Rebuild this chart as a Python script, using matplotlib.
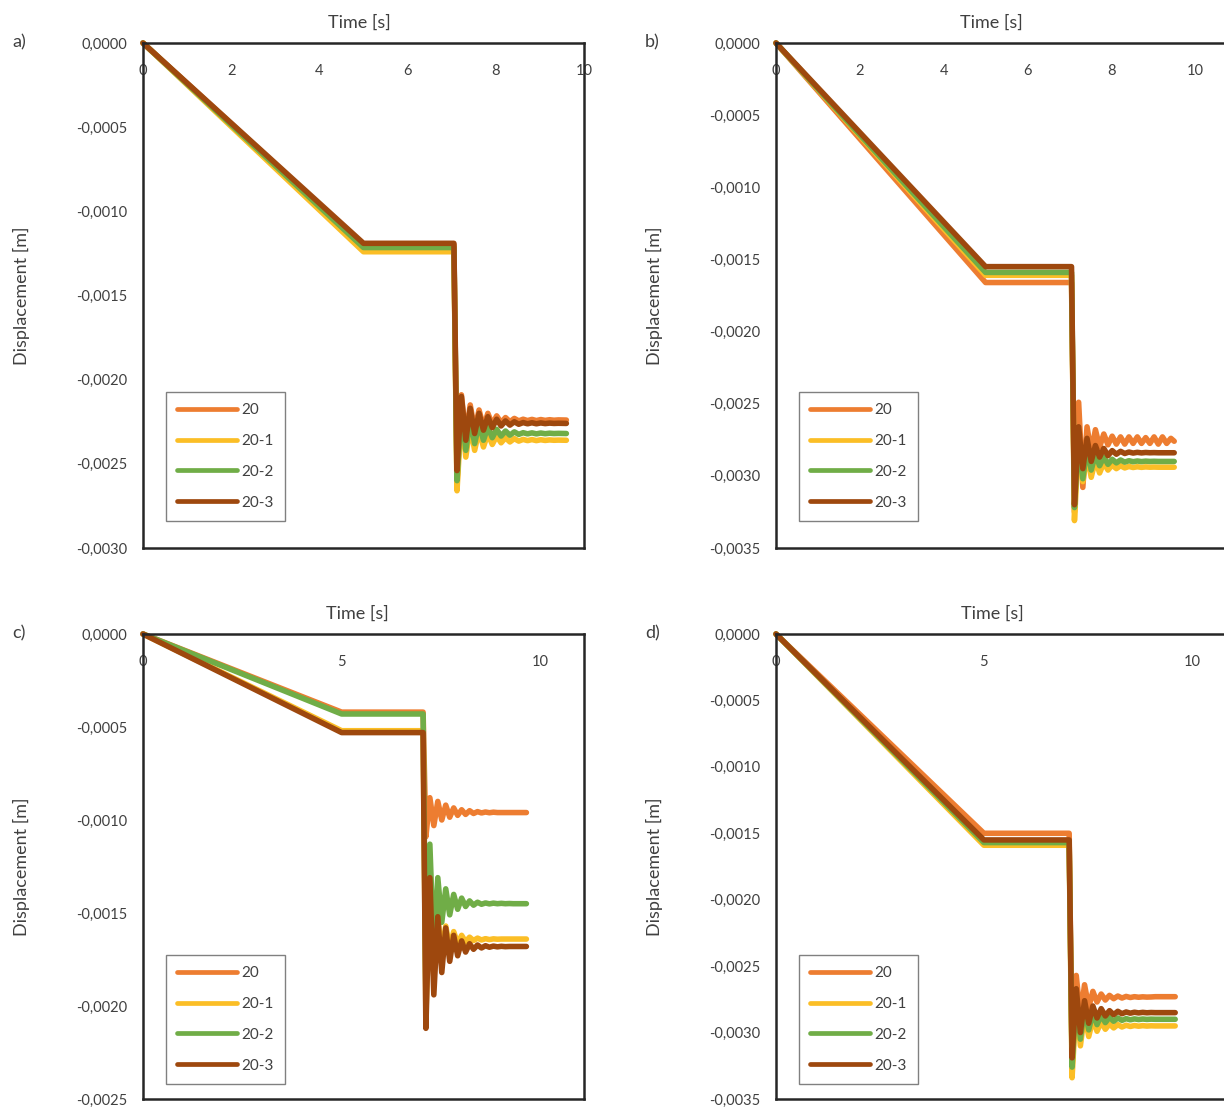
import matplotlib
matplotlib.use('Agg')
import matplotlib.pyplot as plt
from matplotlib.transforms import blended_transform_factory
from matplotlib.ticker import FixedLocator, FuncFormatter

plt.rcParams['font.family'] = ['Lato', 'DejaVu Sans']

W, H = 1224, 1107

series_names = ['20', '20-1', '20-2', '20-3']
colors = ['#ED7D31', '#FBBE26', '#70AD47', '#9E480E']

# common time points: start, end of ramp, end of plateau, oscillation extrema
t_ramp = [0.0, 5.0, 7.05]
t_osc = [7.12, 7.22, 7.32, 7.42, 7.52, 7.62, 7.72, 7.82, 7.92, 8.02, 8.12, 8.22,
         8.32, 8.42, 8.52, 8.62, 8.72, 8.82, 8.92, 9.02, 9.12, 9.22, 9.32, 9.42]
t_end = {'a': 9.60, 'b': 9.50, 'c': 9.65, 'd': 9.60}

# magnitudes in units of 1e-3 m (displacement is negative)
plateau_a = [1.20, 1.24, 1.215, 1.19]
final_a = [2.24, 2.36, 2.32, 2.26]
osc_a_20 = [2.62, 2.09, 2.34, 2.15, 2.30, 2.18, 2.28, 2.20, 2.265, 2.215, 2.255, 2.225, 2.25, 2.23, 2.245, 2.235, 2.243, 2.236, 2.243, 2.237, 2.242, 2.238, 2.241, 2.239]
osc_a_201 = [2.66, 2.20, 2.46, 2.27, 2.42, 2.30, 2.40, 2.32, 2.385, 2.335, 2.375, 2.345, 2.37, 2.35, 2.365, 2.355, 2.362, 2.356, 2.362, 2.357, 2.361, 2.358, 2.36, 2.359]
osc_a_202 = [2.60, 2.16, 2.42, 2.23, 2.38, 2.26, 2.36, 2.28, 2.345, 2.295, 2.335, 2.305, 2.33, 2.31, 2.325, 2.315, 2.322, 2.316, 2.322, 2.317, 2.321, 2.318, 2.32, 2.319]
osc_a_203 = [2.54, 2.10, 2.36, 2.17, 2.32, 2.20, 2.30, 2.22, 2.285, 2.235, 2.275, 2.245, 2.27, 2.25, 2.265, 2.255, 2.262, 2.256, 2.262, 2.257, 2.261, 2.258, 2.26, 2.259]

plateau_b = [1.66, 1.61, 1.59, 1.55]
final_b = [2.76, 2.94, 2.90, 2.84]
osc_b_20 = [3.25, 2.49, 3.08, 2.66, 2.84, 2.68, 2.80, 2.71, 2.785, 2.725, 2.78, 2.73, 2.78, 2.73, 2.775, 2.73, 2.775, 2.735, 2.775, 2.73, 2.78, 2.73, 2.775, 2.74]
osc_b_201 = [3.31, 2.76, 3.04, 2.85, 3.01, 2.89, 2.98, 2.91, 2.96, 2.925, 2.95, 2.93, 2.945, 2.935, 2.942, 2.937, 2.941, 2.938, 2.94, 2.939, 2.94, 2.94, 2.94, 2.94]
osc_b_202 = [3.22, 2.72, 3.02, 2.80, 2.96, 2.85, 2.93, 2.87, 2.92, 2.885, 2.91, 2.89, 2.905, 2.895, 2.902, 2.897, 2.901, 2.898, 2.90, 2.899, 2.90, 2.90, 2.90, 2.90]
osc_b_203 = [3.20, 2.66, 2.95, 2.74, 2.90, 2.79, 2.87, 2.81, 2.86, 2.825, 2.85, 2.83, 2.845, 2.835, 2.842, 2.837, 2.841, 2.838, 2.84, 2.839, 2.84, 2.84, 2.84, 2.84]

plateau_c = [0.42, 0.52, 0.43, 0.53]
final_c = [0.96, 1.64, 1.45, 1.68]
osc_c_20 = [1.09, 0.88, 1.03, 0.90, 1.00, 0.92, 0.985, 0.935, 0.975, 0.945, 0.97, 0.95, 0.965, 0.955, 0.962, 0.957, 0.961, 0.958, 0.96, 0.96, 0.96, 0.96, 0.96, 0.96]
osc_c_201 = [2.05, 1.40, 1.85, 1.52, 1.72, 1.57, 1.69, 1.60, 1.665, 1.62, 1.655, 1.63, 1.648, 1.635, 1.645, 1.638, 1.643, 1.639, 1.641, 1.64, 1.64, 1.64, 1.64, 1.64]
osc_c_202 = [1.95, 1.13, 1.72, 1.31, 1.55, 1.37, 1.51, 1.40, 1.48, 1.42, 1.465, 1.435, 1.458, 1.442, 1.453, 1.446, 1.451, 1.447, 1.45, 1.448, 1.45, 1.449, 1.45, 1.45]
osc_c_203 = [2.12, 1.31, 1.94, 1.52, 1.82, 1.58, 1.76, 1.62, 1.73, 1.65, 1.71, 1.665, 1.695, 1.672, 1.688, 1.676, 1.684, 1.678, 1.682, 1.679, 1.681, 1.68, 1.68, 1.68]

plateau_d = [1.50, 1.59, 1.57, 1.55]
final_d = [2.73, 2.95, 2.90, 2.85]
osc_d_20 = [3.22, 2.57, 2.88, 2.64, 2.81, 2.69, 2.77, 2.71, 2.755, 2.72, 2.745, 2.725, 2.74, 2.728, 2.736, 2.73, 2.734, 2.731, 2.733, 2.732, 2.73, 2.73, 2.73, 2.73]
osc_d_201 = [3.34, 2.76, 3.10, 2.86, 3.03, 2.90, 2.99, 2.92, 2.975, 2.935, 2.965, 2.94, 2.958, 2.945, 2.954, 2.947, 2.952, 2.948, 2.951, 2.949, 2.95, 2.95, 2.95, 2.95]
osc_d_202 = [3.26, 2.72, 3.05, 2.81, 2.98, 2.85, 2.94, 2.87, 2.925, 2.885, 2.915, 2.89, 2.908, 2.895, 2.904, 2.897, 2.902, 2.898, 2.901, 2.899, 2.90, 2.90, 2.90, 2.90]
osc_d_203 = [3.19, 2.67, 3.00, 2.76, 2.93, 2.80, 2.89, 2.82, 2.875, 2.835, 2.865, 2.84, 2.858, 2.845, 2.854, 2.847, 2.852, 2.848, 2.851, 2.849, 2.85, 2.85, 2.85, 2.85]

x_ticks = {'a': [0, 2, 4, 6, 8, 10], 'b': [0, 2, 4, 6, 8, 10], 'c': [0, 5, 10], 'd': [0, 5, 10]}
x_lims = {'a': 10.0, 'b': 12.0, 'c': 11.1, 'd': 12.0}
y_mins = {'a': -0.0030, 'b': -0.0035, 'c': -0.0025, 'd': -0.0035}

panels = {
    'a': (plateau_a, final_a, [osc_a_20, osc_a_201, osc_a_202, osc_a_203]),
    'b': (plateau_b, final_b, [osc_b_20, osc_b_201, osc_b_202, osc_b_203]),
    'c': (plateau_c, final_c, [osc_c_20, osc_c_201, osc_c_202, osc_c_203]),
    'd': (plateau_d, final_d, [osc_d_20, osc_d_201, osc_d_202, osc_d_203]),
}

# pixel layout: left, top, right, bottom
layout = {
    'a': (143, 43, 143 + 441, 548),
    'b': (776, 43, 776 + 503, 548),
    'c': (143, 634, 143 + 441, 1099),
    'd': (776, 634, 776 + 499, 1099),
}
legend_gap = {'a': 27, 'b': 27, 'c': 15, 'd': 15}
title_x = {'a': 4.9, 'b': 5.15, 'c': 5.4, 'd': 5.2}

fig = plt.figure(figsize=(W / 100, H / 100), dpi=100)
txt_col = '#404040'

def yfmt(v, pos):
    s = f"{v:.4f}".replace('.', ',')
    if s.startswith('-0,0000'):
        s = '0,0000'
    return s

for key in ['a', 'b', 'c', 'd']:
    l, t, r, b = layout[key]
    ax = fig.add_axes([l / W, (H - b) / H, (r - l) / W, (b - t) / H])
    plateau, final, oscs = panels[key]
    for i, name in enumerate(series_names):
        times = t_ramp + t_osc + [t_end[key]]
        vals = [0.0, plateau[i], plateau[i]] + oscs[i] + [final[i]]
        vals = [-v * 1e-3 for v in vals]
        ax.plot(times, vals, color=colors[i], lw=4.0, label=name,
                solid_capstyle='round', solid_joinstyle='round', clip_on=False)
    ax.set_xlim(0, x_lims[key])
    ax.set_ylim(y_mins[key], 0)
    ax.yaxis.set_major_locator(FixedLocator([y_mins[key] + 0.0005 * k
                                             for k in range(int(round(-y_mins[key] / 0.0005)) + 1)]))
    ax.yaxis.set_major_formatter(FuncFormatter(yfmt))
    ax.set_xticks(x_ticks[key])
    ax.set_xticklabels([str(v) for v in x_ticks[key]])
    ax.tick_params(axis='x', top=True, labeltop=True, bottom=False, labelbottom=False,
                   length=0, pad=-25, labelsize=10.5, labelcolor=txt_col)
    ax.tick_params(axis='y', length=0, pad=11, labelsize=10.5, labelcolor=txt_col)
    for s in ax.spines.values():
        s.set_color('#262626')
        s.set_linewidth(1.8)
    trans = blended_transform_factory(ax.transData, fig.transFigure)
    ax.text(title_x[key], (H - t + 20) / H, 'Time [s]', transform=trans,
            ha='center', va='center', fontsize=13, color=txt_col)
    fig.text((l - 122) / W, (H - (t + b) / 2) / H, 'Displacement [m]', rotation=90,
             ha='center', va='center', fontsize=13, color=txt_col)
    fig.text((l - 131) / W, (H - t + 1) / H, key + ')', ha='left', va='center',
             fontsize=13, color=txt_col)
    wpx, hpx = r - l, b - t
    leg = ax.legend(loc='lower left', bbox_to_anchor=(23 / wpx, legend_gap[key] / hpx),
                    borderaxespad=0, frameon=True, fancybox=False, edgecolor='#808080',
                    fontsize=11, handlelength=3.9, handletextpad=0.25, labelspacing=1.1,
                    borderpad=0.75, framealpha=1)
    leg.get_frame().set_linewidth(1.0)
    for txt in leg.get_texts():
        txt.set_color(txt_col)
    for line in leg.get_lines():
        line.set_linewidth(3.4)

fig.savefig('out.png', dpi=100)
